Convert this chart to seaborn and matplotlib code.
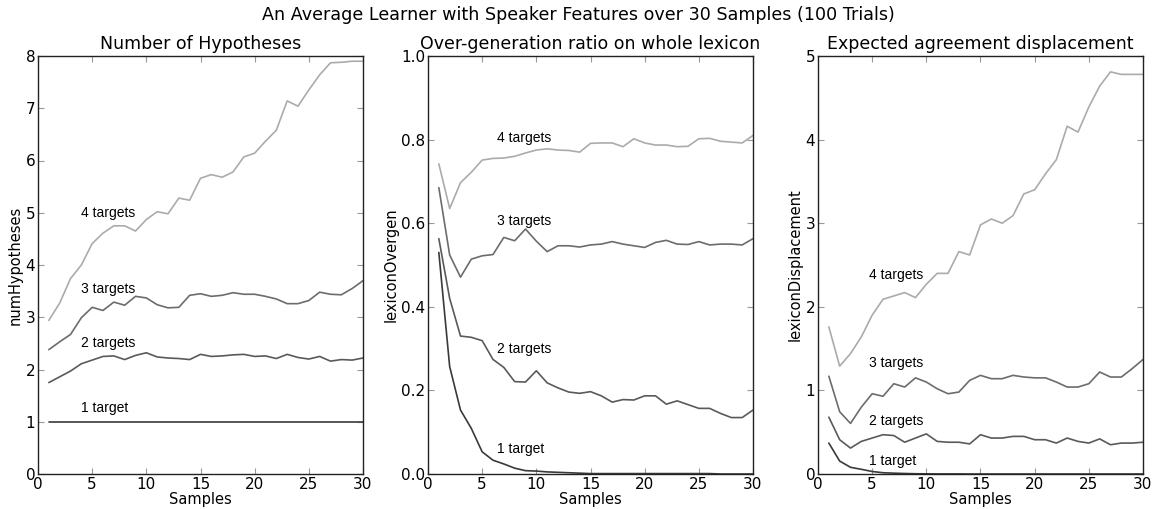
import numpy as np
import pandas as pd
import matplotlib
matplotlib.use('Agg')
import matplotlib.pyplot as plt
import seaborn as sns

samples = list(range(1, 31))
target_names = ['1 target', '2 targets', '3 targets', '4 targets']

# Number of hypotheses
hyp_1 = [1.0] * 30
hyp_2 = [1.75, 1.86, 1.97, 2.11, 2.18, 2.25, 2.26, 2.19, 2.27, 2.32,
         2.24, 2.22, 2.21, 2.19, 2.29, 2.25, 2.26, 2.28, 2.29, 2.25,
         2.26, 2.21, 2.29, 2.23, 2.20, 2.25, 2.16, 2.19, 2.18, 2.22]
hyp_3 = [2.38, 2.53, 2.67, 2.99, 3.19, 3.13, 3.29, 3.23, 3.40, 3.37,
         3.24, 3.18, 3.19, 3.42, 3.45, 3.40, 3.42, 3.47, 3.44, 3.44,
         3.40, 3.35, 3.26, 3.26, 3.32, 3.48, 3.44, 3.43, 3.55, 3.70]
hyp_4 = [2.94, 3.27, 3.74, 4.00, 4.41, 4.61, 4.75, 4.75, 4.65, 4.87,
         5.02, 4.98, 5.28, 5.24, 5.66, 5.73, 5.68, 5.78, 6.07, 6.14,
         6.37, 6.58, 7.14, 7.04, 7.35, 7.64, 7.87, 7.88, 7.90, 7.90]

# Over-generation ratio
over_1 = [0.530, 0.257, 0.153, 0.109, 0.053, 0.033, 0.024, 0.014, 0.008, 0.007,
          0.005, 0.004, 0.003, 0.002, 0.001, 0.001, 0.001, 0.001, 0.001, 0.001,
          0.001, 0.001, 0.001, 0.001, 0.001, 0.001, 0.0, 0.0, 0.0, 0.0]
over_2 = [0.563, 0.420, 0.330, 0.327, 0.319, 0.274, 0.255, 0.221, 0.220, 0.247,
          0.218, 0.206, 0.196, 0.193, 0.197, 0.187, 0.172, 0.178, 0.177, 0.187,
          0.187, 0.167, 0.175, 0.166, 0.157, 0.157, 0.145, 0.135, 0.135, 0.153]
over_3 = [0.685, 0.524, 0.471, 0.514, 0.522, 0.525, 0.566, 0.558, 0.586, 0.557,
          0.532, 0.546, 0.546, 0.543, 0.548, 0.550, 0.556, 0.550, 0.546, 0.542,
          0.554, 0.559, 0.550, 0.549, 0.556, 0.548, 0.550, 0.550, 0.548, 0.563]
over_4 = [0.742, 0.635, 0.697, 0.722, 0.751, 0.755, 0.756, 0.760, 0.768, 0.775,
          0.778, 0.775, 0.774, 0.770, 0.791, 0.792, 0.792, 0.783, 0.802, 0.792,
          0.787, 0.787, 0.783, 0.784, 0.802, 0.803, 0.796, 0.794, 0.792, 0.810]

# Expected agreement displacement
disp_1 = [0.37, 0.155, 0.08, 0.056, 0.03, 0.015, 0.01, 0.006, 0.003, 0.002,
          0.001, 0.001, 0.001, 0.0, 0.0, 0.0, 0.0, 0.0, 0.0, 0.0,
          0.0, 0.0, 0.0, 0.0, 0.0, 0.0, 0.0, 0.0, 0.0, 0.0]
disp_2 = [0.68, 0.41, 0.31, 0.39, 0.43, 0.47, 0.46, 0.38, 0.43, 0.48,
          0.39, 0.38, 0.38, 0.36, 0.47, 0.43, 0.43, 0.45, 0.45, 0.41,
          0.41, 0.37, 0.43, 0.39, 0.37, 0.42, 0.35, 0.37, 0.37, 0.38]
disp_3 = [1.17, 0.745, 0.605, 0.80, 0.96, 0.93, 1.08, 1.04, 1.15, 1.10,
          1.02, 0.96, 0.98, 1.12, 1.18, 1.14, 1.14, 1.18, 1.16, 1.15,
          1.15, 1.10, 1.04, 1.04, 1.08, 1.22, 1.16, 1.16, 1.26, 1.37]
disp_4 = [1.76, 1.29, 1.44, 1.64, 1.90, 2.09, 2.13, 2.17, 2.11, 2.27,
          2.40, 2.40, 2.66, 2.62, 2.98, 3.05, 3.00, 3.09, 3.35, 3.40,
          3.59, 3.76, 4.16, 4.09, 4.39, 4.64, 4.81, 4.78, 4.78, 4.78]

titles = ['Number of Hypotheses', 'Over-generation ratio on whole lexicon',
          'Expected agreement displacement']
ylabels = ['numHypotheses', 'lexiconOvergen', 'lexiconDisplacement']
ylims = [(0, 8), (0, 1.0), (0, 5)]

# label positions (x, y) for each panel
label_pos = [
    [(4, 1.27), (4, 2.50), (4, 3.54), (4, 5.0)],
    [(6.4, 0.06), (6.4, 0.30), (6.4, 0.605), (6.4, 0.805)],
    [(4.7, 0.155), (4.7, 0.63), (4.7, 1.33), (4.7, 2.38)],
]

colors = ['#3a3a3a', '#5a5a5a', '#6c6c6c', '#ababab']

panels = [[hyp_1, hyp_2, hyp_3, hyp_4],
          [over_1, over_2, over_3, over_4],
          [disp_1, disp_2, disp_3, disp_4]]

sns.set_style('ticks')
plt.rcParams['font.family'] = ['DejaVu Sans']
plt.rcParams['text.color'] = 'black'
plt.rcParams['axes.labelcolor'] = 'black'

fig = plt.figure(figsize=(11.56, 5.09), dpi=100)
lefts = [38 / 1156, 428 / 1156, 818 / 1156]
w = 325 / 1156
b = 1 - 474 / 509
h = (474 - 56) / 509

for i in range(3):
    ax = fig.add_axes([lefts[i], b, w, h])
    for j, vals in enumerate(panels[i]):
        df = pd.DataFrame({'Samples': samples, 'value': vals})
        sns.lineplot(data=df, x='Samples', y='value', color=colors[j],
                     linewidth=1.2, ax=ax)
        tx, ty = label_pos[i][j]
        ax.text(tx, ty, target_names[j], fontsize=10, va='center',
                family='Liberation Sans', color='black')
    ax.set_xlim(0, 30)
    ax.set_ylim(*ylims[i])
    ax.set_title(titles[i], fontsize=12.5, pad=5, color='black')
    ax.set_xlabel('Samples', fontsize=10.5, labelpad=0)
    ax.set_ylabel(ylabels[i], fontsize=10.5, labelpad=2)
    if i == 1:
        ax.set_yticks([0.0, 0.2, 0.4, 0.6, 0.8, 1.0])
        ax.set_yticklabels(['0.0', '0.2', '0.4', '0.6', '0.8', '1.0'])
    ax.tick_params(direction='in', top=True, right=True, length=4,
                   color='#999999', labelcolor='black', labelsize=11, pad=2)
    for sp in ax.spines.values():
        sp.set_visible(True)
        sp.set_color('#222222')
        sp.set_linewidth(1.0)

fig.suptitle('An Average Learner with Speaker Features over 30 Samples (100 Trials)',
             fontsize=12.6, y=0.988, color='black')

fig.savefig('out.png', dpi=100)
